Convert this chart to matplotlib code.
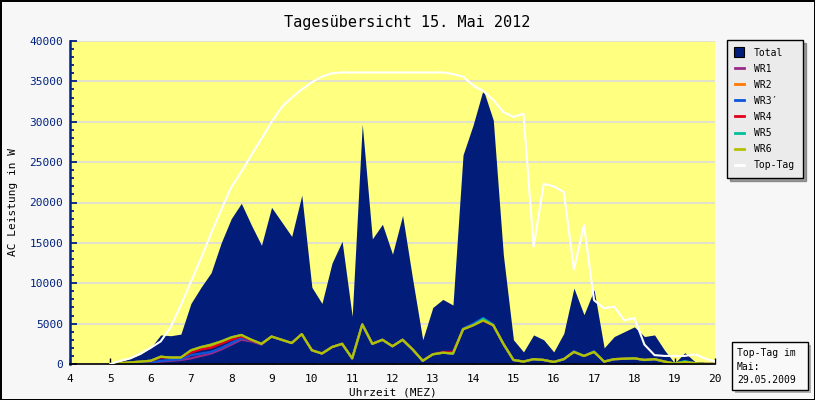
import numpy as np
import matplotlib
matplotlib.use('Agg')
import matplotlib.pyplot as plt
from matplotlib.lines import Line2D
from matplotlib.patches import Rectangle
from matplotlib.ticker import MultipleLocator

plt.rcParams['font.family'] = ['DejaVu Sans Mono', 'DejaVu Sans']

# Zeitachse: 5:00 bis 20:00 in Viertelstunden
zeit = np.arange(5.0, 20.001, 0.25)

total = [0, 300, 700, 1200, 2000, 3600, 3500, 3700, 7500, 9500,
         11300, 15000, 18000, 19900, 17200, 14700, 19400, 17600, 15800, 20900,
         9500, 7500, 12500, 15200, 5900, 29700, 15500, 17300, 13600, 18400,
         10500, 3000, 7000, 8000, 7300, 25900, 29600, 34000, 30200, 13500,
         3000, 1500, 3600, 3000, 1500, 3800, 9400, 6100, 9200, 2000,
         3400, 4000, 4600, 3400, 3600, 1700, 100, 1400, 300, 100, 0]

top_tag = [0, 400, 700, 1300, 2000, 2800, 4600, 7300, 10200, 13100,
           16200, 19100, 21900, 23800, 25900, 27900, 30000, 31800, 33000, 34000,
           34900, 35600, 36000, 36100, 36100, 36100, 36100, 36100, 36100, 36100,
           36100, 36100, 36100, 36100, 35900, 35600, 34500, 33800, 32700, 31200,
           30600, 31000, 14500, 22300, 22000, 21300, 11700, 17200, 7900, 6900,
           7100, 5400, 5700, 2400, 1100, 1000, 1000, 1000, 1200, 700, 300]

wr1 = [0, 0, 50, 80, 100, 300, 400, 500, 700, 1000,
       1300, 1800, 2400, 3000, 2800, 2400, 3400, 3000, 2600, 3700,
       1700, 1300, 2100, 2500, 700, 4900, 2500, 3000, 2200, 3000,
       1800, 400, 1200, 1400, 1300, 4300, 4800, 5400, 4800, 2500,
       500, 300, 600, 500, 250, 600, 1500, 1000, 1500, 300,
       600, 650, 700, 500, 600, 300, 50, 250, 100, 0, 0]

wr2 = [0, 100, 200, 300, 400, 900, 800, 800, 1600, 2000,
       2200, 2700, 3200, 3500, 3000, 2500, 3400, 3000, 2600, 3700,
       1700, 1300, 2100, 2500, 700, 4900, 2500, 3000, 2200, 3000,
       1800, 400, 1200, 1400, 1300, 4300, 4800, 5400, 4800, 2500,
       500, 300, 600, 500, 250, 600, 1500, 1000, 1500, 300,
       600, 650, 700, 500, 600, 300, 50, 250, 100, 0, 0]

wr3 = [0, 50, 100, 150, 150, 400, 500, 600, 1100, 1300,
       1500, 2000, 2600, 3200, 2900, 2500, 3400, 3000, 2600, 3700,
       1700, 1300, 2100, 2500, 700, 4900, 2500, 3000, 2200, 3000,
       1800, 400, 1200, 1400, 1300, 4400, 5000, 5700, 4900, 2500,
       500, 300, 600, 500, 250, 600, 1600, 1000, 1600, 300,
       600, 650, 700, 500, 600, 300, 50, 250, 100, 0, 0]

wr4 = [0, 100, 200, 300, 350, 800, 800, 800, 1400, 1800,
       2000, 2500, 3000, 3400, 2900, 2500, 3400, 3000, 2600, 3700,
       1700, 1300, 2100, 2500, 700, 4900, 2500, 3000, 2200, 3000,
       1800, 400, 1200, 1500, 1500, 4300, 4800, 5400, 4800, 2500,
       500, 300, 600, 500, 250, 600, 1500, 1000, 1500, 300,
       600, 650, 700, 500, 600, 300, 50, 250, 100, 0, 0]

wr5 = [0, 100, 200, 300, 400, 900, 800, 800, 1700, 2100,
       2400, 2800, 3300, 3600, 3000, 2500, 3400, 3000, 2600, 3700,
       1700, 1300, 2100, 2500, 700, 4900, 2500, 3000, 2200, 3000,
       1800, 400, 1200, 1400, 1300, 4300, 4800, 5600, 4800, 2500,
       500, 300, 600, 500, 250, 600, 1500, 1000, 1500, 300,
       600, 650, 700, 500, 600, 300, 50, 350, 100, 0, 0]

wr6 = [0, 100, 200, 300, 400, 900, 800, 800, 1700, 2100,
       2400, 2800, 3300, 3600, 3000, 2500, 3400, 3000, 2600, 3700,
       1700, 1300, 2100, 2500, 700, 4900, 2500, 3000, 2200, 3000,
       1800, 400, 1200, 1400, 1300, 4300, 4800, 5400, 4800, 2500,
       500, 300, 600, 500, 250, 600, 1500, 1000, 1500, 300,
       600, 650, 700, 500, 600, 300, 50, 250, 100, 0, 0]

wr_namen = ['WR1', 'WR2', 'WR3\u2032', 'WR4', 'WR5', 'WR6']
wr_farben = ['#9a2a8a', '#ff7a00', '#0a55d8', '#e0001a', '#00c09a', '#b4c000']
wr_werte = [wr1, wr2, wr3, wr4, wr5, wr6]

navy = '#021c7a'
blau = '#00207f'

fig = plt.figure(figsize=(8.15, 4.0), dpi=100, facecolor='#f7f7f7')
fig.patch.set_edgecolor('black')
fig.patch.set_linewidth(2)

ax = fig.add_axes([70/815, 36/400, 645/815, 323/400])
ax.set_facecolor('#ffff80')
ax.set_xlim(4, 20)
ax.set_ylim(0, 40000)
ax.set_axisbelow(True)
ax.yaxis.grid(True, which='major', color='#dcdcdc', lw=1.2)

ax.fill_between(zeit, total, color=navy, lw=0, zorder=1)
for werte, farbe in zip(wr_werte, wr_farben):
    ax.plot(zeit, werte, color=farbe, lw=1.6, zorder=2)
ax.plot(zeit, top_tag, color='white', lw=1.5, zorder=3)

# Achsen
for s in ['top', 'right']:
    ax.spines[s].set_visible(False)
ax.spines['left'].set_color(blau)
ax.spines['left'].set_linewidth(1.8)
ax.spines['bottom'].set_color('black')
ax.spines['bottom'].set_linewidth(1.2)

ax.xaxis.set_major_locator(MultipleLocator(1))
ax.yaxis.set_major_locator(MultipleLocator(5000))
ax.yaxis.set_minor_locator(MultipleLocator(1000))
ax.tick_params(axis='y', which='major', direction='in', length=5, width=1.3,
               color=blau, labelcolor=blau, labelsize=8, pad=5)
ax.tick_params(axis='y', which='minor', direction='in', length=3, width=1.3, color=blau)
ax.tick_params(axis='x', which='major', direction='in', length=4, width=1,
               color='black', labelsize=8, pad=7)

ax.set_xlabel('Uhrzeit (MEZ)', fontsize=8, labelpad=3)
ax.set_ylabel('AC Leistung in W', fontsize=8, labelpad=8)
fig.text(0.5, 1 - 22/400, 'Tagesübersicht 15. Mai 2012', ha='center', va='center', fontsize=11)

# Legende
handles = [Line2D([], [], ls='none', marker='s', markersize=7, markerfacecolor=navy,
                  markeredgecolor='black', markeredgewidth=0.8)]
for farbe in wr_farben:
    handles.append(Line2D([], [], color=farbe, lw=2))
handles.append(Line2D([], [], color='white', lw=2))
labels = ['Total'] + wr_namen + ['Top-Tag']
leg = fig.legend(handles, labels, loc='upper left', bbox_to_anchor=(727/815, 1 - 40/400),
                 borderaxespad=0, fontsize=7, handlelength=0.9, handletextpad=1.1,
                 labelspacing=0.62, borderpad=0.8, fancybox=False, shadow=True,
                 framealpha=1, facecolor='#ebebeb', edgecolor='black')
leg.get_frame().set_linewidth(1)

# Top-Tag Kasten
def fx(px):
    return px / 815

def fy(py):
    return 1 - py / 400

fig.patches.append(Rectangle((fx(735), fy(393)), fx(76), 48/400, transform=fig.transFigure,
                             facecolor='#b0b0b0', edgecolor='none', zorder=1))
fig.patches.append(Rectangle((fx(732), fy(390)), fx(76), 48/400, transform=fig.transFigure,
                             facecolor='#f9f9f9', edgecolor='black', lw=1, zorder=2))
fig.text(fx(737), fy(348), 'Top-Tag im\nMai:\n29.05.2009', ha='left', va='top',
         fontsize=7, linespacing=1.45, zorder=3)

fig.savefig('out.png', dpi=100, facecolor=fig.get_facecolor(), edgecolor='black')
